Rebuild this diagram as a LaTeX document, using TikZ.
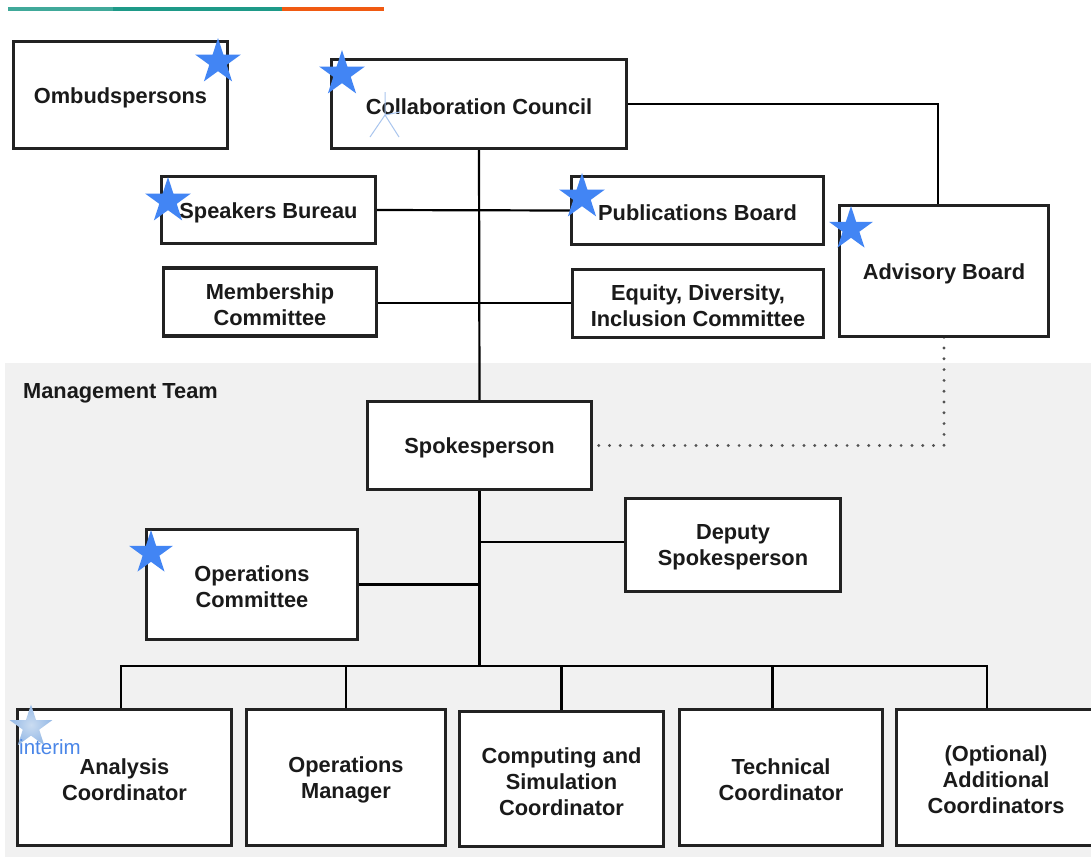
\documentclass[tikz,border=0pt]{standalone}
\usepackage{fontspec}
\setmainfont{Liberation Sans}
\usetikzlibrary{shapes.geometric}
\definecolor{teamgray}{HTML}{F1F1F1}
\definecolor{boxline}{HTML}{222222}
\definecolor{inktext}{HTML}{1A1A1A}
\definecolor{starblue}{HTML}{4285F4}
\definecolor{softstarin}{HTML}{CADCF1}
\definecolor{softstarout}{HTML}{95B9E6}
\definecolor{interimblue}{HTML}{4A86E8}
\definecolor{sketchblue}{HTML}{A9C5EE}
\definecolor{teal}{HTML}{1E9A88}
\definecolor{orangebar}{HTML}{F05A12}
\tikzset{
  orgbox/.style={draw=boxline, line width=2.4pt, fill=white, rectangle,
    inner sep=0pt},
  boxtext/.style={align=center, inner sep=0pt, text=inktext, yshift=-2.5pt,
    font=\fontsize{21.8}{26}\selectfont\bfseries},
  link/.style={draw=black, line width=2.2pt},
  dotlink/.style={draw=black!68, line width=3.2pt, line cap=round,
    dash pattern=on 0pt off 10.8pt},
  badge/.style={star, star points=5, star point ratio=2.618, inner sep=0pt,
    minimum size=48pt, fill=starblue, draw=none},
  softbadge/.style={star, star points=5, star point ratio=2.618, inner sep=0pt,
    minimum size=45pt, inner color=softstarin, outer color=softstarout, draw=none}
}
\begin{document}
\begin{tikzpicture}[x=1pt, y=-1pt]
\clip (0,0) rectangle (1091,857);
\fill[white] (0,0) rectangle (1091,857);

% header bar
\fill[teal!85!white] (8,7) rectangle (113,11);
\fill[teal] (113,7) rectangle (282,11);
\fill[orangebar] (282,7) rectangle (384,11);

% management team panel
\fill[teamgray] (5,363) rectangle (1091,857);
\node[boxtext, anchor=west] (mtlabel) at (23,391) {Management Team};

% boxes
\node[orgbox, minimum width=213pt, minimum height=106pt, label={[boxtext]center:{Ombudspersons}}] (omb) at (120.5,95) {};
\node[orgbox, minimum width=294pt, minimum height=88pt, label={[boxtext]center:{Collaboration Council}}] (cc) at (479,104) {};
\node[orgbox, minimum width=213pt, minimum height=66pt, label={[boxtext]center:{Speakers Bureau}}] (spb) at (268.5,210) {};
\node[orgbox, minimum width=251pt, minimum height=67pt, label={[boxtext]center:{Publications Board}}] (pub) at (697.5,210.5) {};
\node[orgbox, minimum width=208pt, minimum height=130pt, label={[boxtext]center:{Advisory Board}}] (adv) at (944,271) {};
\node[orgbox, minimum width=212pt, minimum height=67pt, label={[boxtext]center:{Membership\\Committee}}] (mem) at (270,302) {};
\node[orgbox, minimum width=250pt, minimum height=67pt, label={[boxtext]center:{Equity, Diversity,\\Inclusion Committee}}] (equ) at (698,303.5) {};
\node[orgbox, minimum width=223pt, minimum height=87pt, label={[boxtext]center:{Spokesperson}}] (spk) at (479.5,445.5) {};
\node[orgbox, minimum width=210pt, minimum height=109pt, label={[boxtext]center:{Operations\\Committee}}] (opc) at (252,584.5) {};
\node[orgbox, minimum width=214pt, minimum height=92pt, label={[boxtext]center:{Deputy\\Spokesperson}}] (dep) at (733,545) {};
\node[orgbox, minimum width=213pt, minimum height=135pt, label={[boxtext]center:{Analysis\\Coordinator}}] (ana) at (124.5,777.5) {};
\node[orgbox, minimum width=198pt, minimum height=135pt, label={[boxtext]center:{Operations\\Manager}}] (mgr) at (346,777.5) {};
\node[orgbox, minimum width=203pt, minimum height=134pt, label={[boxtext]center:{Computing and\\Simulation\\Coordinator}}] (csc) at (561.5,779) {};
\node[orgbox, minimum width=202pt, minimum height=135pt, label={[boxtext]center:{Technical\\Coordinator}}] (tec) at (781,777.5) {};
\node[orgbox, minimum width=198pt, minimum height=135pt, label={[boxtext]center:{(Optional)\\Additional\\Coordinators}}] (opt) at (996,777.5) {};

% connectors
\coordinate (busy) at (0,666);
\draw[link] (cc.south) -- (spk.north);
\draw[link] (spb.east) -- (pub.west);
\draw[link] ([yshift=-1pt]mem.east) -- ([yshift=-1pt]mem.east -| equ.west);
\draw[link] (cc.east) -| ([xshift=-6pt]adv.north);
\draw[dotlink] (adv.south) |- ([xshift=6pt]spk.east);
\draw[link] (spk.south) -- (spk.south |- busy);
\draw[link] ([yshift=3pt]dep.west -| spk.south) -- ([yshift=3pt]dep.west);
\draw[link] (opc.east) -- (opc.east -| spk.south);
\draw[link] ([xshift=-3.5pt]ana.north) -- ([xshift=-3.5pt]ana.north |- busy) -- ([xshift=-9pt]opt.north |- busy) -- ([xshift=-9pt]opt.north);
\draw[link] (mgr.north) -- (mgr.north |- busy);
\draw[link] (csc.north) -- (csc.north |- busy);
\draw[link] ([xshift=-8.5pt]tec.north) -- ([xshift=-8.5pt]tec.north |- busy);

% box outlines drawn again over the connector ends
\foreach \n in {omb,cc,spb,pub,adv,mem,equ,spk,opc,dep,ana,mgr,csc,tec,opt}{
  \draw[boxline, line width=2.4pt] (\n.north west) rectangle (\n.south east);
}

% markers
\node[badge] (s1) at (218,62) {};
\node[badge] (s2) at (342,74) {};
\node[badge] (s3) at (168,201) {};
\node[badge] (s4) at (582,197) {};
\node[badge, minimum size=46pt] (s5) at (851,229) {};
\node[badge, minimum size=46pt] (s6) at (151,553) {};
\node[softbadge] (s7) at (31,727) {};
\node[text=interimblue, font=\fontsize{20.5}{24}\selectfont, inner sep=0pt] (interim) at (50,747) {interim};

% faint sketch mark
\coordinate (mk) at (385,115);
\draw[sketchblue, line width=1pt] (mk) -- (385,92) (mk) -- (400,112) (mk) -- (370,137) (mk) -- (399,137);
\end{tikzpicture}
\end{document}
